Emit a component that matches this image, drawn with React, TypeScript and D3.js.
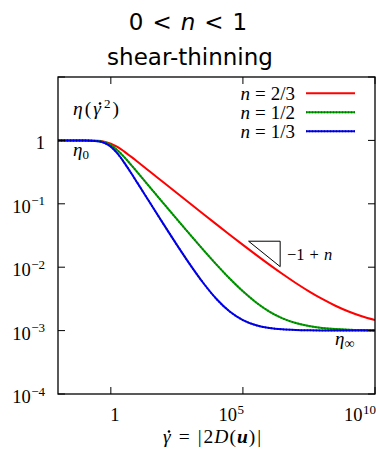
import React from "react";
import * as d3 from "d3";

// Shear rate samples (log10 of gamma-dot) and viscosity (log10 of eta) per flow index n
const logRate = [-2, -1, -0.5, -0.25, 0, 0.25, 0.5, 0.75, 1, 1.5, 2, 2.5, 3, 3.5, 4, 4.5, 5, 5.5, 6, 6.5, 7, 7.5, 8, 8.5, 9, 9.5, 10];
const logEtaTwoThirds = [0, -0.0007, -0.0069, -0.0199, -0.0502, -0.1033, -0.1736, -0.2523, -0.3336, -0.4991, -0.6651, -0.8308, -0.9961, -1.1608, -1.3245, -1.4869, -1.6474, -1.8052, -1.959, -2.1076, -2.249, -2.381, -2.5014, -2.608, -2.6992, -2.7744, -2.8345];
const logEtaHalf = [0, -0.0011, -0.0104, -0.0298, -0.0752, -0.1547, -0.26, -0.3778, -0.5001, -0.7481, -0.9961, -1.2428, -1.4869, -1.7265, -1.959, -2.1793, -2.381, -2.5565, -2.6992, -2.8063, -2.8807, -2.9289, -2.9586, -2.9763, -2.9865, -2.9923, -2.9957];
const logEtaThird = [0, -0.0014, -0.0138, -0.0398, -0.1002, -0.2061, -0.3466, -0.5036, -0.6665, -0.9961, -1.3245, -1.6474, -1.959, -2.249, -2.5014, -2.6992, -2.8345, -2.9154, -2.9586, -2.9803, -2.9908, -2.9957, -2.998, -2.9991, -2.9996, -2.9998, -2.9999];

const seriesNames = ["2/3", "1/2", "1/3"];
const seriesColors = ["#ff0000", "#00a000", "#0000ff"];
const seriesDotColors = [null, "#006a00", "#00008a"];

const xTicks = [1, 1e5, 1e10];
const xTickExponents = [null, "5", "10"];
const yTicks = [1e-4, 1e-3, 1e-2, 1e-1, 1, 1e1];
const yTickExponents = ["\u22124", "\u22123", "\u22122", "\u22121", null, null];

// Slope triangle corners (rate, viscosity)
const triRate = [1.64e5, 2.57e6];
const triEta = [0.0257, 0.0102];

const W = 376;
const H = 451;
const left = 58;
const right = 375;
const top = 77;
const bottom = 394;
const serif = "'Liberation Serif', 'Times New Roman', serif";
const sans = "'DejaVu Sans', sans-serif";

export default function App() {
  const x = d3.scaleLog().domain([1e-2, 1e10]).range([left, right]);
  const y = d3.scaleLog().domain([1e-4, 1e1]).range([bottom, top]);

  const series = [logEtaTwoThirds, logEtaHalf, logEtaThird];
  const line = d3
    .line<[number, number]>()
    .x((d) => x(Math.pow(10, d[0])))
    .y((d) => y(Math.pow(10, d[1])))
    .curve(d3.curveMonotoneX);

  const tickLen = 7;

  const strokeFor = (i: number, d: string, key: string) => (
    <g key={key}>
      <path d={d} fill="none" stroke={seriesColors[i]} strokeWidth={2} />
      {seriesDotColors[i] && (
        <path
          d={d}
          fill="none"
          stroke={seriesDotColors[i] as string}
          strokeWidth={2}
          strokeDasharray="1 2"
          opacity={0.75}
        />
      )}
    </g>
  );

  return (
    <svg
      width={W}
      height={H}
      style={{ position: "absolute", left: 0, top: 0, background: "#fff" }}
    >
      <defs>
        <clipPath id="plotArea">
          <rect x={left} y={top} width={right - left} height={bottom - top} />
        </clipPath>
      </defs>

      {/* title */}
      <text x={188} y={30} textAnchor="middle" fontFamily={sans} fontSize={23}>
        0<tspan dx={9}>&lt;</tspan>
        <tspan dx={9} fontStyle="italic">n</tspan>
        <tspan dx={9}>&lt;</tspan>
        <tspan dx={9}>1</tspan>
      </text>
      <text x={190} y={65} textAnchor="middle" fontFamily={sans} fontSize={23}>
        shear-thinning
      </text>

      {/* curves */}
      <g clipPath="url(#plotArea)">
        {series.map((vals, i) =>
          strokeFor(i, line(logRate.map((r, j) => [r, vals[j]] as [number, number])) || "", "s" + i)
        )}
      </g>

      {/* frame and ticks */}
      <rect x={left} y={top} width={right - left} height={bottom - top} fill="none" stroke="#000" strokeWidth={1.3} />
      {yTicks.map((t, i) => (
        <g key={"y" + i}>
          <line x1={left} x2={left + tickLen} y1={y(t)} y2={y(t)} stroke="#000" strokeWidth={1} />
          <line x1={right - tickLen} x2={right} y1={y(t)} y2={y(t)} stroke="#000" strokeWidth={1} />
        </g>
      ))}
      {xTicks.map((t, i) => (
        <g key={"x" + i}>
          <line x1={x(t)} x2={x(t)} y1={bottom} y2={bottom - tickLen} stroke="#000" strokeWidth={1} />
          <line x1={x(t)} x2={x(t)} y1={top} y2={top + tickLen} stroke="#000" strokeWidth={1} />
        </g>
      ))}

      {/* y tick labels */}
      {yTicks.slice(0, 5).map((t, i) => (
        <text key={"yl" + i} x={45} y={y(t) + 9} textAnchor="end" fontFamily={serif} fontSize={18.5}>
          {yTickExponents[i] ? "10" : "1"}
          {yTickExponents[i] && (
            <tspan dx={0.5} dy={-7.5} fontSize={13}>
              {yTickExponents[i]}
            </tspan>
          )}
        </text>
      ))}

      {/* x tick labels */}
      {xTicks.map((t, i) =>
        xTickExponents[i] ? (
          <text key={"xl" + i} x={x(t) + 1} y={421} textAnchor="end" fontFamily={serif} fontSize={18.5}>
            10
            <tspan dx={0.5} dy={-7.5} fontSize={13}>
              {xTickExponents[i]}
            </tspan>
          </text>
        ) : (
          <text key={"xl" + i} x={x(t) + 4} y={421} textAnchor="middle" fontFamily={serif} fontSize={18.5}>
            1
          </text>
        )
      )}

      {/* x axis title (rate dot drawn as accent) */}
      <text x={163} y={443} fontFamily={serif} fontSize={19.5}>
        <tspan fontStyle="italic">γ</tspan>
        <tspan dx={8}>=</tspan>
        <tspan dx={8}>|</tspan>
        <tspan dx={2}>2</tspan>
        <tspan dx={1} fontStyle="italic">D</tspan>
        <tspan dx={1}>(</tspan>
        <tspan dx={1} fontStyle="italic" fontWeight="bold">u</tspan>
        <tspan dx={1}>)</tspan>
        <tspan dx={2}>|</tspan>
      </text>
      <circle cx={169} cy={431.5} r={1.3} fill="#000" />

      {/* curve annotations */}
      <text x={73} y={115} fontFamily={serif} fontSize={19.5}>
        <tspan fontStyle="italic">η</tspan>
        <tspan dx={2}>(</tspan>
        <tspan dx={2} fontStyle="italic">γ</tspan>
        <tspan dx={3} dy={-7} fontSize={13}>2</tspan>
        <tspan dx={2} dy={7}>)</tspan>
      </text>
      <circle cx={100} cy={103.5} r={1.3} fill="#000" />
      <text x={73} y={156} fontFamily={serif} fontSize={19}>
        <tspan fontStyle="italic">η</tspan>
        <tspan dy={3} fontSize={13}>0</tspan>
      </text>
      <text x={335} y={345} fontFamily={serif} fontSize={19}>
        <tspan fontStyle="italic">η</tspan>
        <tspan dy={3} fontSize={14}>∞</tspan>
      </text>

      {/* slope triangle */}
      <path
        d={`M${x(triRate[0])},${y(triEta[0])}L${x(triRate[1])},${y(triEta[0])}L${x(triRate[1])},${y(triEta[1])}Z`}
        fill="none"
        stroke="#000"
        strokeWidth={1}
      />
      <text x={287} y={260} fontFamily={serif} fontSize={16.5}>
        −1<tspan dx={5}>+</tspan>
        <tspan dx={5} fontStyle="italic">n</tspan>
      </text>

      {/* legend */}
      {seriesNames.map((name, i) => {
        const ly = 93.3 + i * 19;
        return (
          <g key={"lg" + i}>
            <text x={295} y={100 + i * 19} textAnchor="end" fontFamily={serif} fontSize={19}>
              <tspan fontStyle="italic">n</tspan>
              <tspan dx={5}>=</tspan>
              <tspan dx={5}>{name}</tspan>
            </text>
            {strokeFor(i, `M306,${ly}L355,${ly}`, "ll" + i)}
          </g>
        );
      })}
    </svg>
  );
}
